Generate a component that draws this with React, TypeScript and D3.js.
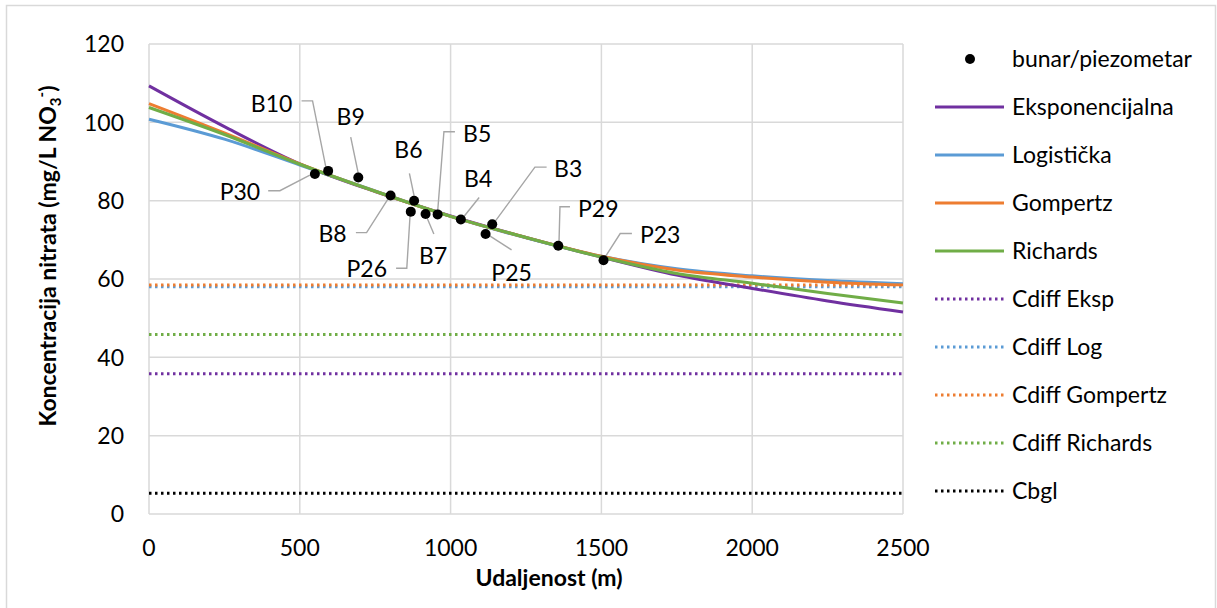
import React from "react";
import * as d3 from "d3";

// ---- data ----
const distances = [0, 250, 500, 750, 1000, 1250, 1500, 1750, 2000, 2250, 2500];
const eksponencijalna = [109.3, 98.9, 89.4, 82.3, 76.1, 70.6, 65.6, 61.0, 57.6, 54.4, 51.6];
const logisticka = [100.8, 95.7, 89.1, 82.5, 76.0, 70.5, 65.8, 62.6, 60.8, 59.6, 58.8];
const gompertz = [104.8, 97.3, 89.4, 82.4, 76.0, 70.6, 65.8, 62.3, 60.5, 59.2, 58.5];
const richards = [103.8, 96.9, 89.3, 82.4, 76.0, 70.6, 65.6, 61.4, 58.9, 56.3, 53.9];

const wellNames = ["P30", "B10", "B9", "B8", "B6", "P26", "B7", "B5", "B4", "B3", "P25", "P29", "P23"];
const wellX = [550, 594, 694, 801, 879, 868, 917, 957, 1034, 1138, 1116, 1357, 1507];
const wellY = [86.8, 87.6, 85.9, 81.3, 80.0, 77.2, 76.6, 76.5, 75.2, 74.0, 71.5, 68.5, 64.8];

const cdiffEksp = 35.8;
const cdiffLog = 58.0;
const cdiffGompertz = 58.5;
const cdiffRichards = 45.8;
const cbgl = 5.3;

const xTicks = [0, 500, 1000, 1500, 2000, 2500];
const yTicks = [0, 20, 40, 60, 80, 100, 120];

// ---- layout (label placement, pixel offsets from point) ----
const labelLayout: Record<string, { t: [number, number]; l: [number, number][] }> = {
  P30: { t: [-75, 18], l: [[-46.7, 16.7], [-35, 16.7], [-5, 1]] },
  B10: { t: [-56.6, -66.7], l: [[-26.6, -70], [-15.6, -70], [-2.3, -3.7]] },
  B9: { t: [-7.6, -61], l: [[-7.6, -40.4], [0, -4]] },
  B8: { t: [-58, 38.6], l: [[-34.7, 37], [-24, 37], [-1.4, 1.6]] },
  B6: { t: [-5.7, -50.7], l: [[-4.7, -27.4], [0, -4.7]] },
  P26: { t: [-44, 57.3], l: [[-14.7, 56.6], [-4, 56.6], [-0.7, 3.3]] },
  B7: { t: [7.6, 41.7], l: [[8.3, 20], [1, 2.7]] },
  B5: { t: [39.6, -81], l: [[17.3, -82.6], [6.3, -82.6], [0, -2.6]] },
  B4: { t: [17.3, -41], l: [[18.3, -22], [2.3, -2]] },
  B3: { t: [76, -55], l: [[54.4, -57], [42.7, -57], [2, -1.6]] },
  P25: { t: [26, 38.3], l: [[26, 16], [2.6, 1]] },
  P29: { t: [40, -37.4], l: [[11.7, -39], [1.7, -39], [0.7, -2.4]] },
  P23: { t: [56.7, -25], l: [[28.4, -26.7], [16.7, -26.7], [0.7, -1.7]] },
};

const FONT = "Lato, 'Open Sans', sans-serif";
const FS = 23;

export default function App() {
  const W = 1217, H = 608;
  const x = d3.scaleLinear().domain([0, 2500]).range([149, 903]);
  const y = d3.scaleLinear().domain([0, 120]).range([514, 44]);

  const line = d3
    .line<number>()
    .x((_, i) => x(distances[i]))
    .y((v) => y(v))
    .curve(d3.curveMonotoneX);

  const curves = [
    { name: "Eksponencijalna", vals: eksponencijalna, color: "#7030A0" },
    { name: "Logistička", vals: logisticka, color: "#5B9BD5" },
    { name: "Gompertz", vals: gompertz, color: "#ED7D31" },
    { name: "Richards", vals: richards, color: "#70AD47" },
  ];
  const hlines = [
    { name: "Cdiff Eksp", v: cdiffEksp, color: "#7030A0" },
    { name: "Cdiff Log", v: cdiffLog, color: "#5B9BD5" },
    { name: "Cdiff Gompertz", v: cdiffGompertz, color: "#ED7D31" },
    { name: "Cdiff Richards", v: cdiffRichards, color: "#70AD47" },
    { name: "Cbgl", v: cbgl, color: "#000000" },
  ];
  const dash = "2.5 3.5";

  const legendItems = [
    { name: "bunar/piezometar", type: "dot", color: "#000" },
    ...curves.map((c) => ({ name: c.name, type: "solid", color: c.color })),
    ...hlines.map((h) => ({ name: h.name, type: "dot-line", color: h.color })),
  ];

  return (
    <svg
      width={W}
      height={H}
      style={{ position: "absolute", left: 0, top: 0, background: "#fff" }}
      fontFamily={FONT}
    >
      <rect x={6.5} y={5.5} width={1209} height={612} fill="#fff" stroke="#D9D9D9" strokeWidth={1.5} />
      {/* grid */}
      {yTicks.map((t) => (
        <line key={"gy" + t} x1={x(0)} x2={x(2500)} y1={y(t)} y2={y(t)} stroke="#D9D9D9" strokeWidth={1.5} />
      ))}
      {xTicks.map((t) => (
        <line key={"gx" + t} x1={x(t)} x2={x(t)} y1={y(0)} y2={y(120)} stroke="#D9D9D9" strokeWidth={1.5} />
      ))}
      {/* tick labels */}
      {yTicks.map((t) => (
        <text key={"ty" + t} x={124} y={y(t)} dy="0.36em" textAnchor="end" fontSize={FS} fill="#000">
          {t}
        </text>
      ))}
      {xTicks.map((t) => (
        <text key={"tx" + t} x={x(t)} y={548} dy="0.36em" textAnchor="middle" fontSize={FS} fill="#000">
          {t}
        </text>
      ))}
      {/* axis titles */}
      <text x={549} y={578} dy="0.36em" textAnchor="middle" fontSize={FS} fontWeight="bold">
        Udaljenost (m)
      </text>
      <text transform="translate(48,256) rotate(-90)" textAnchor="middle" dy="0.36em" fontSize={FS} fontWeight="bold">
        Koncentracija nitrata (mg/L NO
        <tspan fontSize={15} dy={5}>3</tspan>
        <tspan fontSize={15} dy={-14}>-</tspan>
        <tspan dy={9}>)</tspan>
      </text>
      {/* horizontal dotted lines */}
      {hlines.map((h) => (
        <line
          key={h.name}
          x1={x(0)}
          x2={x(2500)}
          y1={y(h.v)}
          y2={y(h.v)}
          stroke={h.color}
          strokeWidth={3}
          strokeDasharray={dash}
        />
      ))}
      {/* curves */}
      {curves.map((c) => (
        <path key={c.name} d={line(c.vals) || ""} fill="none" stroke={c.color} strokeWidth={3} strokeLinejoin="round" />
      ))}
      {/* leader lines */}
      {wellNames.map((n, i) => {
        const px = x(wellX[i]);
        const py = y(wellY[i]);
        const L = labelLayout[n];
        const pts = L.l.map(([dx, dy]) => [px + dx, py + dy] as [number, number]);
        return (
          <path key={"ll" + n} d={d3.line()(pts) || ""} fill="none" stroke="#A6A6A6" strokeWidth={1.4} />
        );
      })}
      {/* points */}
      {wellNames.map((n, i) => (
        <circle key={"pt" + n} cx={x(wellX[i])} cy={y(wellY[i])} r={5} fill="#000" />
      ))}
      {/* labels */}
      {wellNames.map((n, i) => {
        const L = labelLayout[n];
        return (
          <text
            key={"lb" + n}
            x={x(wellX[i]) + L.t[0]}
            y={y(wellY[i]) + L.t[1]}
            dy="0.36em"
            textAnchor="middle"
            fontSize={FS}
            fill="#000"
          >
            {n}
          </text>
        );
      })}
      {/* legend */}
      {legendItems.map((it, i) => {
        const ly = 59 + i * 48;
        return (
          <g key={"lg" + it.name}>
            {it.type === "dot" && <circle cx={970} cy={ly} r={5} fill={it.color} />}
            {it.type === "solid" && (
              <line x1={935} x2={1004} y1={ly} y2={ly} stroke={it.color} strokeWidth={3} />
            )}
            {it.type === "dot-line" && (
              <line x1={935} x2={1004} y1={ly} y2={ly} stroke={it.color} strokeWidth={3} strokeDasharray={dash} />
            )}
            <text x={1012} y={ly} dy="0.36em" fontSize={FS} fill="#000">
              {it.name}
            </text>
          </g>
        );
      })}
    </svg>
  );
}
